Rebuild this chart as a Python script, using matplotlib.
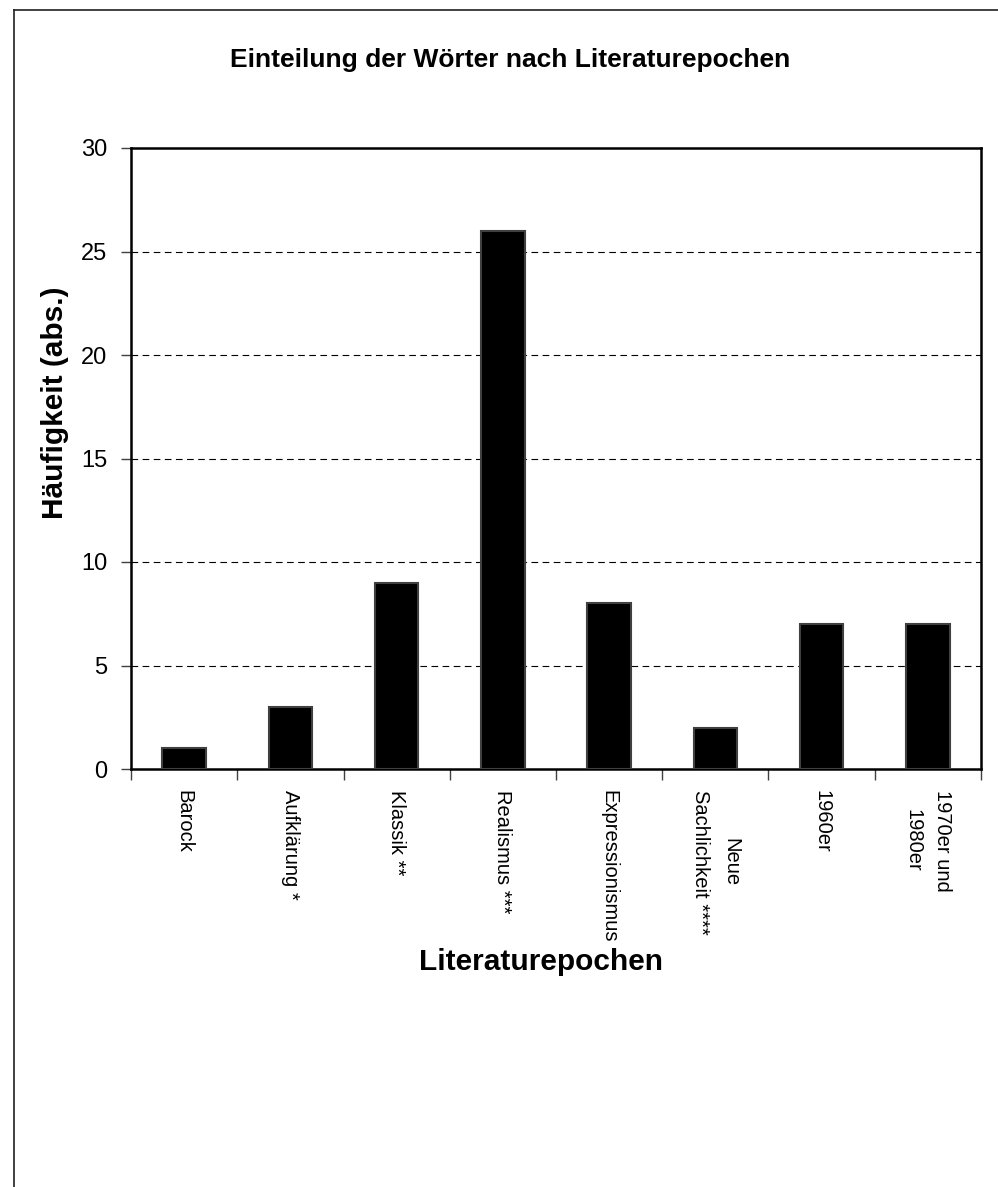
import numpy as np
import matplotlib.pyplot as plt
from matplotlib.lines import Line2D

plt.rcParams['font.family'] = ['Liberation Sans', 'DejaVu Sans']

epochen = ['Barock', 'Aufklärung *', 'Klassik **', 'Realismus ***', 'Expressionismus',
           'Neue\nSachlichkeit ****', '1960er', '1970er und\n1980er']
haeufigkeit = [1, 3, 9, 26, 8, 2, 7, 7]
y_ticks = [0, 5, 10, 15, 20, 25, 30]

W, H = 998, 1187
fig = plt.figure(figsize=(W / 100, H / 100), dpi=100)
fig.patch.set_facecolor('white')

# outer frame (only left and top edges fall inside the image)
fig.add_artist(Line2D([14 / W, 14 / W], [0, 1 - 10 / H], color='#202020', lw=1.2))
fig.add_artist(Line2D([14 / W, 1], [1 - 10 / H, 1 - 10 / H], color='#202020', lw=1.2))

ax = fig.add_axes([131 / W, 1 - 769 / H, (981 - 131) / W, (769 - 148) / H])

x = np.arange(len(epochen))
ax.bar(x, haeufigkeit, width=0.41, color='black', edgecolor='#404040', linewidth=1.5, zorder=3)

ax.set_xlim(-0.5, len(epochen) - 0.5)
ax.set_ylim(0, 30)
ax.set_yticks(y_ticks)
ax.set_yticklabels([str(v) for v in y_ticks], fontsize=17)
for v in y_ticks[1:-1]:
    ax.axhline(v, color='black', lw=0.8, ls=(0, (6, 4)), zorder=1)

# category ticks sit on the boundaries, labels in between
ax.set_xticks(np.arange(len(epochen) + 1) - 0.5)
ax.set_xticklabels([])
ax.set_xticks(x, minor=True)
ax.set_xticklabels(epochen, minor=True, rotation=270, fontsize=14.5,
                   va='top', ha='center', multialignment='center', linespacing=1.75)
ax.tick_params(axis='x', which='minor', length=0, pad=15)
ax.tick_params(axis='x', which='major', length=8, width=1, color='#404040', direction='out')
ax.tick_params(axis='y', length=7, width=1, color='#404040', direction='out', pad=10)

for s in ax.spines.values():
    s.set_linewidth(1.8)
    s.set_color('black')

fig.text(510 / W, 1 - 60 / H, 'Einteilung der Wörter nach Literaturepochen',
         ha='center', va='center', fontsize=19, fontweight='bold')
fig.text(541 / W, 1 - 962 / H, 'Literaturepochen',
         ha='center', va='center', fontsize=21.5, fontweight='bold')
fig.text(55 / W, 1 - 403 / H, 'Häufigkeit (abs.)', rotation=90,
         ha='center', va='center', fontsize=21.5, fontweight='bold')

fig.savefig('out.png', dpi=100, facecolor='white')
